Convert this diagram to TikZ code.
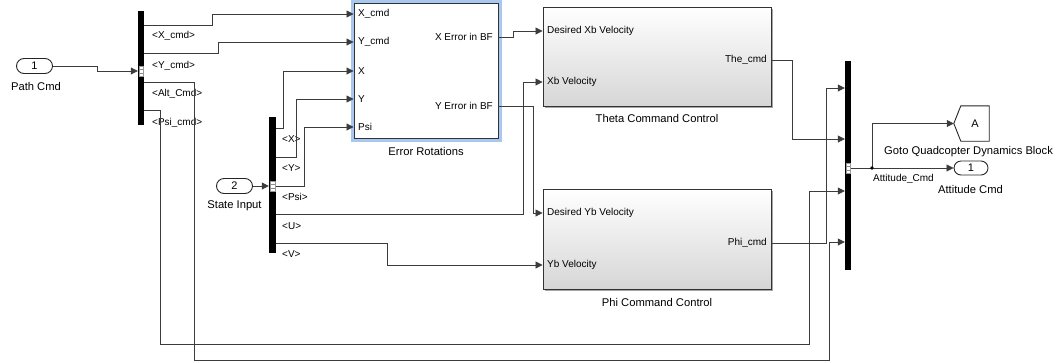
\documentclass[tikz,border=0pt]{standalone}
\usepackage{fontspec}
\setmainfont{Liberation Sans}
\usetikzlibrary{arrows.meta,shapes.misc,calc}
\definecolor{wirecol}{RGB}{60,60,60}
\definecolor{glow}{RGB}{168,200,240}
\definecolor{blkbot}{RGB}{214,214,214}
\begin{document}
\begin{tikzpicture}[x=1pt,y=-1pt,
  wire/.style={draw=wirecol,line width=0.8pt},
  arr/.style={wire,-{Triangle[length=7pt,width=7pt]}},
  busbar/.style={fill=black,draw=none,inner sep=0,minimum width=6pt},
  ctlblk/.style={draw=black!80,line width=0.9pt,top color=white,bottom color=blkbot,inner sep=0,minimum width=228pt},
  plbl/.style={font=\fontsize{10}{12}\selectfont,inner sep=0},
  nlbl/.style={font=\fontsize{11.2}{13}\selectfont,inner sep=0},
  ioport/.style={rounded rectangle,draw=black!85,line width=0.9pt,fill=white,minimum width=36pt,minimum height=15pt,inner sep=0,font=\fontsize{11}{12}\selectfont},
  marker/.style={fill=white,draw=black!40,line width=0.4pt}
]
\useasboundingbox (0,0) rectangle (1059,362);
\clip (0,0) rectangle (1059,362);

% ---------- blocks ----------
\node[ioport] (in1) at (34.5,66) {1};
\node[nlbl] (in1l) at (36,86) {Path Cmd};
\node[ioport] (in2) at (234.5,186) {2};
\node[nlbl] (in2l) at (234.5,206) {State Input};

\node[busbar,minimum height=114pt] (bus1) at (141,68) {};
\node[busbar,minimum width=7pt,minimum height=136pt] (bus3) at (272.5,185) {};
\node[busbar,minimum height=209pt] (bus2) at (848,165.5) {};

% Error Rotations (selected, blue glow)
\draw[glow,line width=3pt] (352,1) rectangle (500,140);
\node[draw=black!80,line width=0.9pt,fill=white,minimum width=144pt,minimum height=135pt,inner sep=0] (er) at (426,70.5) {};
\node[nlbl] (erl) at (426,151) {Error Rotations};

% Theta / Phi blocks with shadow
\fill[black!35] (545,9) rectangle (773,108);
\node[ctlblk,minimum height=99pt] (th) at (657,56.5) {};
\node[nlbl] (thl) at (657,118) {Theta Command Control};
\fill[black!35] (545,191) rectangle (773,291);
\node[ctlblk,minimum height=100pt] (ph) at (657,239) {};
\node[nlbl] (phl) at (657,302) {Phi Command Control};

% Goto and outport
\node[inner sep=0,minimum width=28pt,minimum height=35pt,font=\fontsize{11}{12}\selectfont] (goto) at (975,123.5) {A};
\draw[black!85,line width=0.9pt,fill=white] ($(goto.west)+(-7,0)$) -- (goto.north west) -- (goto.north east) -- (goto.south east) -- (goto.south west) -- cycle;
\node[inner sep=0,font=\fontsize{11}{12}\selectfont] at (goto) {A};
\node[nlbl,anchor=west] (gotol) at (884,152) {Goto Quadcopter Dynamics Block};
\node[ioport,minimum width=34pt,minimum height=14pt] (out1) at (971,168) {1};
\node[nlbl] (out1l) at (970.5,189) {Attitude Cmd};

% ---------- port labels ----------
\node[plbl,anchor=west] at (358,14) {X\_cmd};
\node[plbl,anchor=west] at (358,42) {Y\_cmd};
\node[plbl,anchor=west] at (358,71) {X};
\node[plbl,anchor=west] at (358,99) {Y};
\node[plbl,anchor=west] at (358,127) {Psi};
\node[plbl,anchor=east] at (493,37) {X Error in BF};
\node[plbl,anchor=east] at (493,106) {Y Error in BF};

\node[plbl,anchor=west] at (547,31) {Desired Xb Velocity};
\node[plbl,anchor=west] at (547,82) {Xb Velocity};
\node[plbl,anchor=east] at (767,60) {The\_cmd};
\node[plbl,anchor=west] at (547,213) {Desired Yb Velocity};
\node[plbl,anchor=west] at (547,265) {Yb Velocity};
\node[plbl,anchor=east] at (767,243) {Phi\_cmd};

\node[plbl,anchor=west] at (152,36) {<X\_cmd>};
\node[plbl,anchor=west] at (152,66) {<Y\_cmd>};
\node[plbl,anchor=west] at (152,94) {<Alt\_Cmd>};
\node[plbl,anchor=west] at (152,123) {<Psi\_cmd>};

\node[plbl,anchor=west] at (282,139) {<X>};
\node[plbl,anchor=west] at (282,168) {<Y>};
\node[plbl,anchor=west] at (282,197) {<Psi>};
\node[plbl,anchor=west] at (282,226) {<U>};
\node[plbl,anchor=west] at (282,254) {<V>};

\node[plbl,anchor=west] (sigl) at (873,179) {Attitude\_Cmd};

% ---------- connectors ----------
\draw[arr] (in1.east) -- (97,66) -- (97,71) -- (bus1.west|-0,71);
\draw[arr] (in2.east) -- (bus3.west|-0,186);

% bus1 outputs
\draw[arr] (bus1.east|-0,25) -| (212,14) -- (er.west|-0,14);
\draw[arr] (bus1.east|-0,53) -| (218,42) -- (er.west|-0,42);
\draw[arr] (bus1.east|-0,82) -| (194,360) -| (829,242) -- (bus2.west|-0,242);
\draw[arr] (bus1.east|-0,110) -| (160,344) -| (809,191) -- (bus2.west|-0,191);

% bus3 outputs
\draw[arr] (bus3.east|-0,128) -| (283,71) -- (er.west|-0,71);
\draw[arr] (bus3.east|-0,157) -| (296,99) -- (er.west|-0,99);
\draw[arr] (bus3.east|-0,186) -| (304,127) -- (er.west|-0,127);
\draw[arr] (bus3.east|-0,214) -| (523,82) -- (th.west|-0,82);
\draw[arr] (bus3.east|-0,243) -| (387,265) -- (ph.west|-0,265);

% error rotation outputs
\draw[arr] (er.east|-0,37) -| (513,31) -- (th.west|-0,31);
\draw[arr] (er.east|-0,106) -| (533,213) -- (ph.west|-0,213);

% control outputs
\draw[arr] (th.east|-0,60) -| (792,139) -- (bus2.west|-0,139);
\draw[arr] (ph.east|-0,243) -| (826,88) -- (bus2.west|-0,88);

% bus2 output
\coordinate (jn) at (872,168);
\draw[wire] (bus2.east|-0,168) -- (jn);
\draw[arr] (jn) -- (out1.west);
\draw[arr] (jn) |- ($(goto.west)+(-7,0)$);
\fill[black] (jn) circle (1.8pt);

% bus port markers
\foreach \x/\y/\w in {139/71/4, 270.5/186/4.5, 846/168/4}{
  \draw[marker] (\x,\y-5) rectangle (\x+\w,\y+5);
  \draw[black!45,line width=0.4pt] (\x,\y-1.7) -- (\x+\w,\y-1.7) (\x,\y+1.7) -- (\x+\w,\y+1.7);
}
\end{tikzpicture}
\end{document}
